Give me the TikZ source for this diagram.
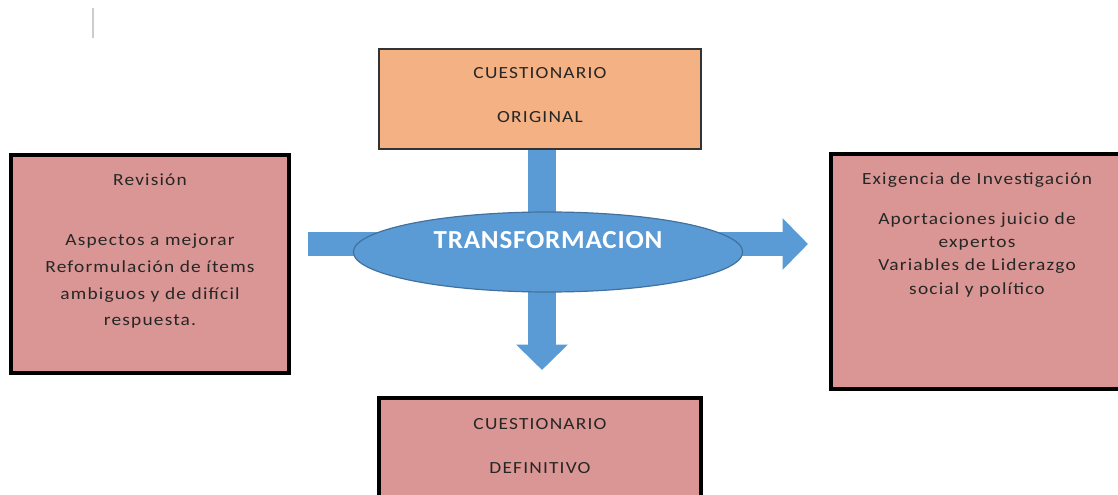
\documentclass[tikz,border=0pt]{standalone}
\usepackage{fontspec}
\setmainfont{Carlito}
\newfontfamily\espaciada[FakeStretch=1.14,LetterSpace=7]{Carlito}
\newfontfamily\espaciadab[FakeStretch=1.04,LetterSpace=3]{Carlito}
\usetikzlibrary{arrows.meta,shapes.geometric}
\definecolor{cajarosa}{HTML}{D99694}
\definecolor{cajanaranja}{HTML}{F4B183}
\definecolor{azulflecha}{HTML}{5B9BD5}
\definecolor{azulborde}{HTML}{41719C}

\begin{document}
\begin{tikzpicture}[x=0.75pt, y=-0.75pt, line join=miter,
		caja/.style={draw=black, line width=3pt, fill=cajarosa, inner sep=0pt},
		cajaorig/.style={draw=black!80, line width=1.1pt, fill=cajanaranja, inner sep=0pt},
		texto/.style={anchor=north, align=center, inner sep=0pt, text=black!85},
		flecha/.style={draw=azulflecha, -{Triangle[width=37.5pt,length=19pt]}}]
			\useasboundingbox (0,0) rectangle (1118,495);
			\clip (0,0) rectangle (1118,495);
			\draw[black!20, line width=1.2pt] (93,8)--(93,38);
			% cajas
			\node[cajaorig, minimum width=241.5pt, minimum height=75pt] (original) at (540,99) {};
			\node[caja, minimum width=208pt, minimum height=164pt] (revision) at (150,264) {};
			\node[caja, minimum width=219pt, minimum height=176pt] (exigencia) at (977,271.5) {};
			\node[caja, minimum width=241pt, minimum height=75pt] (definitivo) at (540,448) {};
			% flechas
			\coordinate (izq) at (308,244);
			\coordinate (der) at (808,244);
			\coordinate (abajo) at (542,370);
			\draw[flecha, line width=18pt] (izq)--(der);
			\draw[flecha, line width=21pt] (original.south -| abajo)--(abajo);
			\node[ellipse, draw=azulborde, line width=0.9pt, fill=azulflecha, minimum width=292pt, minimum height=60pt, inner sep=0pt,
				text=white, font=\espaciadab\bfseries\fontsize{19.5pt}{20pt}\selectfont, text height=12.75pt, text depth=18pt] (transformacion) at (548,252) {TRANSFORMACION};
			% textos
			\node[texto, font=\espaciada\fontsize{12.75pt}{33pt}\selectfont] (txtoriginal) at ([yshift=-14.5pt]original.north) {CUESTIONARIO\\ORIGINAL};
			\node[texto, font=\espaciada\fontsize{12.75pt}{20pt}\selectfont] (txtrevision) at ([yshift=-16pt]revision.north) {Revisión\\[25pt]Aspectos a mejorar\\Reformulación de ítems\\ambiguos y de difícil\\respuesta.};
			\node[texto, font=\espaciada\fontsize{12.75pt}{17.5pt}\selectfont] (txtexigencia) at ([yshift=-15pt]exigencia.north) {Exigencia de Investigación\\[12.5pt]Aportaciones juicio de\\expertos\\Variables de Liderazgo\\social y político};
			\node[texto, font=\espaciada\fontsize{12.75pt}{33.5pt}\selectfont] (txtdefinitivo) at ([yshift=-16.5pt]definitivo.north) {CUESTIONARIO\\DEFINITIVO};
		\end{tikzpicture}
\end{document}
